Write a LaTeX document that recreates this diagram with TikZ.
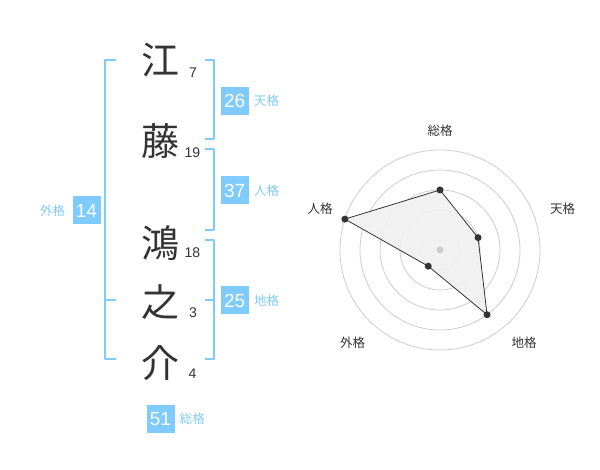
\documentclass[tikz,border=0pt]{standalone}
\usepackage{fontspec}
\usetikzlibrary{positioning}
\setmainfont{Liberation Sans}
\newfontfamily\jpfont{Noto Sans CJK JP}
\definecolor{kakublue}{HTML}{7FCBFB}
\definecolor{moji}{HTML}{333333}
\definecolor{ring}{HTML}{CCCCCC}
\tikzset{
  kanji/.style={font=\jpfont\fontsize{38}{38}\selectfont,text=moji,inner sep=0pt},
  kakusu/.style={font=\fontsize{14}{14}\selectfont,text=moji,inner sep=0pt},
  kaku/.style={fill=kakublue,text=white,minimum size=28pt,inner sep=0pt,font=\fontsize{19}{19}\selectfont},
  kakuname/.style={text=kakublue,font=\jpfont\fontsize{12.5}{12.5}\selectfont,inner sep=0pt},
  brace/.style={draw=kakublue,line width=2pt},
  radarname/.style={text=moji,font=\jpfont\fontsize{12.5}{12.5}\selectfont,inner sep=0pt},
  dot/.style={circle,fill=moji,inner sep=0pt,minimum size=7pt}
}
\begin{document}
\begin{tikzpicture}[x=1pt,y=-1pt,line join=round]
\useasboundingbox (0,0) rectangle (600,470);
% name
\node[kanji] (k1) at (160,60) {江};
\node[kanji] (k2) at (160,141.5) {藤};
\node[kanji] (k3) at (160,243) {鴻};
\node[kanji] (k4) at (160,302) {之};
\node[kanji] (k5) at (160,363) {介};
\node[kakusu] (s1) at (193,72.5) {7};
\node[kakusu] (s2) at (192.5,152.5) {19};
\node[kakusu] (s3) at (192.5,252.5) {18};
\node[kakusu] (s4) at (193,313) {3};
\node[kakusu] (s5) at (192.5,374) {4};
% brackets
\draw[brace] (205,60)--(214,60)--(214,139.3)--(205,139.3);
\draw[brace] (205,149.3)--(214,149.3)--(214,230)--(205,230);
\draw[brace] (205,240)--(214,240)--(214,359.3)--(205,359.3) (205,300)--(214,300);
\draw[brace] (116,60)--(105,60)--(105,359.3)--(116,359.3) (105,300)--(116,300);
% kaku
\node[kaku] (ten) at (234.7,100.8) {26};
\node[kakuname,right=5pt of ten] (tenname) {天格};
\node[kaku] (jin) at (234.7,190.5) {37};
\node[kakuname,right=5pt of jin] (jinname) {人格};
\node[kaku] (chi) at (234.7,300.5) {25};
\node[kakuname,right=5pt of chi] (chiname) {地格};
\node[kaku] (gai) at (86.5,210.5) {14};
\node[kakuname,left=7pt of gai] (gainame) {外格};
\node[kaku] (so) at (160.5,419) {51};
\node[kakuname,right=5pt of so] (soname) {総格};
% radar
\begin{scope}[shift={(440,250)},y=1pt]
\foreach \r in {20,40,...,100}
  \draw[ring,line width=0.8pt] (0,0) circle (\r);
\foreach \ang/\nm/\lv in {90/so/3,18/ten/2,-54/chi/4,-126/gai/1,162/jin/5}
  \coordinate (r\nm) at (\ang:20*\lv);
\draw[moji,line width=0.8pt,fill=gray!12,fill opacity=0.9] (rso)--(rten)--(rchi)--(rgai)--(rjin)--cycle;
\foreach \nm in {so,ten,chi,gai,jin}
  \node[dot] at (r\nm) {};
\node[dot,fill=ring] (c) at (0,0) {};
\end{scope}
\node[radarname] (rsoname) at (440,130.5) {総格};
\node[radarname] (rtenname) at (562.5,208.5) {天格};
\node[radarname] (rchiname) at (524,342.5) {地格};
\node[radarname] (rgainame) at (352.5,342.5) {外格};
\node[radarname] (rjinname) at (320,208.5) {人格};
\end{tikzpicture}
\end{document}
